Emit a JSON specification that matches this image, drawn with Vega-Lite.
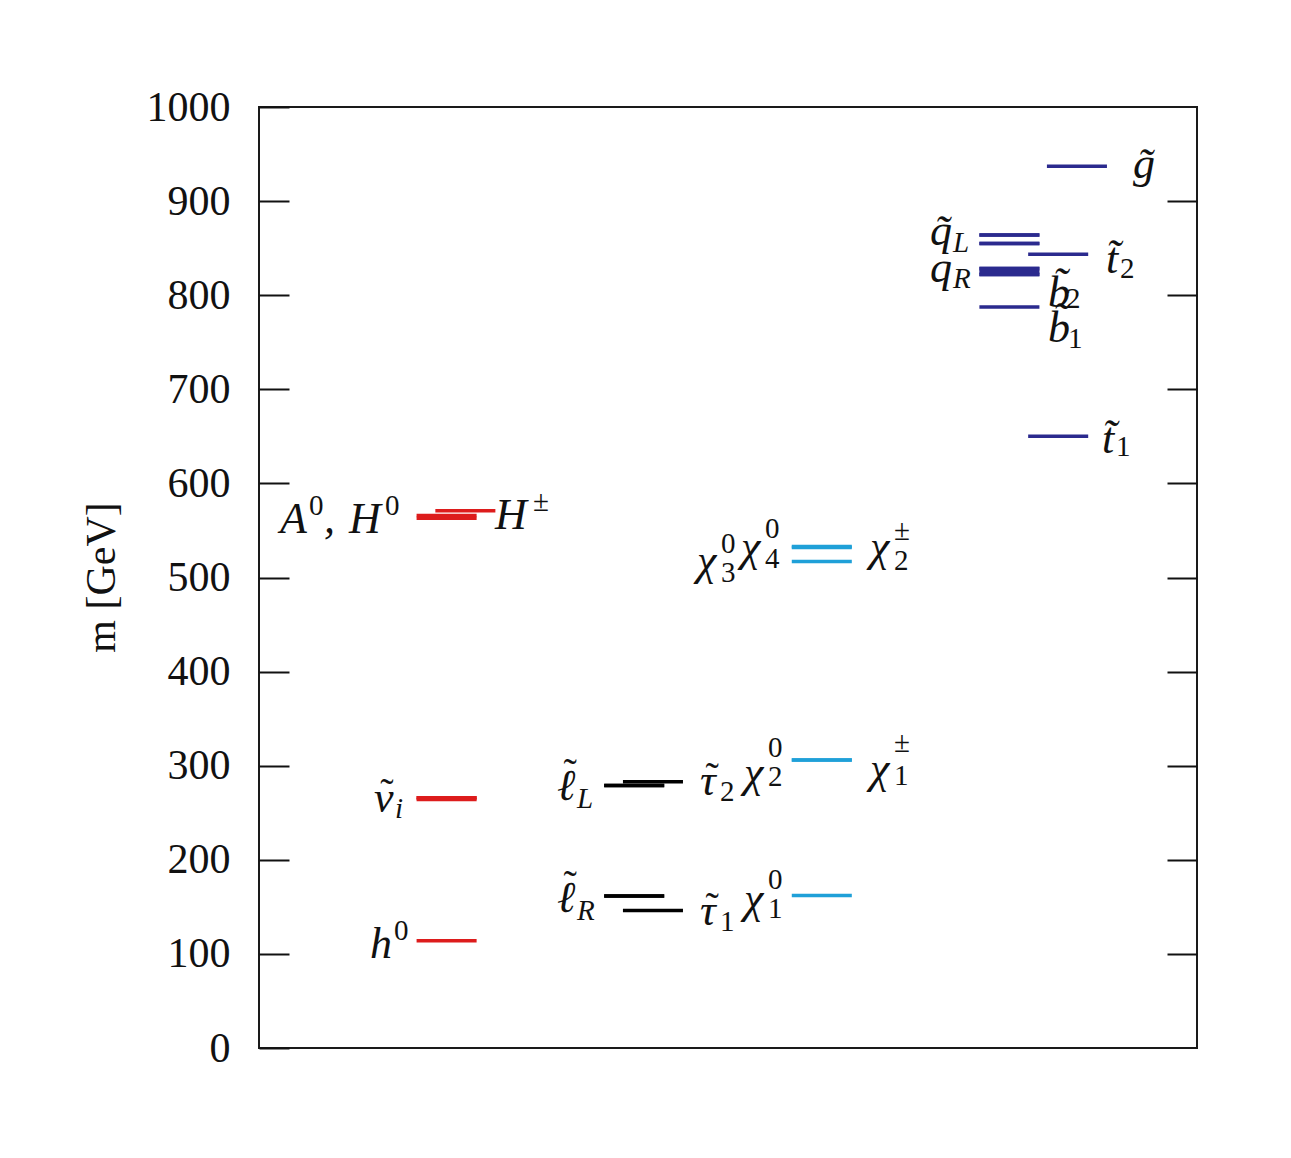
{
  "$schema": "https://vega.github.io/schema/vega-lite/v6.json",
  "width": 938,
  "height": 941,
  "autosize": {"type": "none"},
  "padding": {"left": 259, "top": 107, "right": 94, "bottom": 110},
  "background": "white",
  "config": {
    "view": {"stroke": "#1a1a1a", "strokeWidth": 2},
    "axis": {"grid": false, "domain": false}
  },
  "datasets": {
    "levels": [
      {"particle": "h0", "group": "higgs", "m": 114, "x0": 0.84, "x1": 1.16},
      {"particle": "snu_e", "group": "higgs", "m": 266, "x0": 0.84, "x1": 1.16},
      {"particle": "snu_mu", "group": "higgs", "m": 266, "x0": 0.84, "x1": 1.16},
      {"particle": "snu_tau", "group": "higgs", "m": 264, "x0": 0.84, "x1": 1.16},
      {"particle": "A0", "group": "higgs", "m": 563, "x0": 0.84, "x1": 1.16},
      {"particle": "H0", "group": "higgs", "m": 566, "x0": 0.84, "x1": 1.16},
      {"particle": "Hpm", "group": "higgs", "m": 571, "x0": 0.94, "x1": 1.26},
      {"particle": "eL", "group": "slepton", "m": 279, "x0": 1.84, "x1": 2.16},
      {"particle": "muL", "group": "slepton", "m": 279, "x0": 1.84, "x1": 2.16},
      {"particle": "tau2", "group": "slepton", "m": 283, "x0": 1.94, "x1": 2.26},
      {"particle": "eR", "group": "slepton", "m": 161.5, "x0": 1.84, "x1": 2.16},
      {"particle": "muR", "group": "slepton", "m": 161.5, "x0": 1.84, "x1": 2.16},
      {"particle": "tau1", "group": "slepton", "m": 146, "x0": 1.94, "x1": 2.26},
      {"particle": "N1", "group": "gaugino", "m": 162, "x0": 2.84, "x1": 3.16},
      {"particle": "N2", "group": "gaugino", "m": 306, "x0": 2.84, "x1": 3.16},
      {"particle": "C1", "group": "gaugino", "m": 306, "x0": 2.84, "x1": 3.16},
      {"particle": "N3", "group": "gaugino", "m": 517, "x0": 2.84, "x1": 3.16},
      {"particle": "N4", "group": "gaugino", "m": 532, "x0": 2.84, "x1": 3.16},
      {"particle": "C2", "group": "gaugino", "m": 533, "x0": 2.84, "x1": 3.16},
      {"particle": "uL", "group": "squark", "m": 855, "x0": 3.84, "x1": 4.16},
      {"particle": "cL", "group": "squark", "m": 855, "x0": 3.84, "x1": 4.16},
      {"particle": "dL", "group": "squark", "m": 864, "x0": 3.84, "x1": 4.16},
      {"particle": "sL", "group": "squark", "m": 864, "x0": 3.84, "x1": 4.16},
      {"particle": "uR", "group": "squark", "m": 828.5, "x0": 3.84, "x1": 4.16},
      {"particle": "cR", "group": "squark", "m": 828.5, "x0": 3.84, "x1": 4.16},
      {"particle": "dR", "group": "squark", "m": 822, "x0": 3.84, "x1": 4.16},
      {"particle": "sR", "group": "squark", "m": 822, "x0": 3.84, "x1": 4.16},
      {"particle": "b2", "group": "squark", "m": 825, "x0": 3.84, "x1": 4.16},
      {"particle": "b1", "group": "squark", "m": 787.5, "x0": 3.84, "x1": 4.16},
      {"particle": "t2", "group": "squark", "m": 843.5, "x0": 4.10, "x1": 4.42},
      {"particle": "t1", "group": "squark", "m": 650, "x0": 4.10, "x1": 4.42},
      {"particle": "gluino", "group": "squark", "m": 937, "x0": 4.20, "x1": 4.52}
    ],
    "labels": [
      {"t": "h", "k": "b", "x": 0.592, "m": 95.6},
      {"t": "0", "k": "s", "x": 0.720, "m": 114.8},
      {"t": "ν", "k": "b", "x": 0.613, "m": 250.8},
      {"t": "˜", "k": "tl", "x": 0.682, "m": 257.2},
      {"t": "i", "k": "si", "x": 0.725, "m": 244.4},
      {"t": "A", "k": "b", "x": 0.112, "m": 547.3},
      {"t": "0", "k": "s", "x": 0.267, "m": 566.4},
      {"t": ",", "k": "b", "x": 0.347, "m": 547.3},
      {"t": "H", "k": "b", "x": 0.480, "m": 547.3},
      {"t": "0", "k": "s", "x": 0.672, "m": 566.4},
      {"t": "H", "k": "b", "x": 1.258, "m": 551.5},
      {"t": "±", "k": "s", "x": 1.461, "m": 570.7},
      {"t": "ℓ", "k": "b", "x": 1.589, "m": 263.5},
      {"t": "˜", "k": "tl", "x": 1.658, "m": 278.4},
      {"t": "L", "k": "si", "x": 1.695, "m": 255.0},
      {"t": "ℓ", "k": "b", "x": 1.589, "m": 144.5},
      {"t": "˜", "k": "tl", "x": 1.658, "m": 159.4},
      {"t": "R", "k": "si", "x": 1.695, "m": 136.0},
      {"t": "τ", "k": "b", "x": 2.351, "m": 268.9},
      {"t": "˜", "k": "tl", "x": 2.415, "m": 274.2},
      {"t": "2", "k": "s", "x": 2.457, "m": 262.5},
      {"t": "χ", "k": "b", "x": 2.585, "m": 277.4},
      {"t": "0", "k": "s", "x": 2.713, "m": 309.2},
      {"t": "2", "k": "s", "x": 2.713, "m": 278.4},
      {"t": "χ", "k": "b", "x": 3.257, "m": 281.6},
      {"t": "±", "k": "s", "x": 3.385, "m": 314.6},
      {"t": "1", "k": "s", "x": 3.385, "m": 279.5},
      {"t": "τ", "k": "b", "x": 2.351, "m": 130.7},
      {"t": "˜", "k": "tl", "x": 2.415, "m": 136.0},
      {"t": "1", "k": "s", "x": 2.457, "m": 124.3},
      {"t": "χ", "k": "b", "x": 2.585, "m": 143.5},
      {"t": "0", "k": "s", "x": 2.713, "m": 169.0},
      {"t": "1", "k": "s", "x": 2.713, "m": 138.2},
      {"t": "χ", "k": "b", "x": 2.335, "m": 502.7},
      {"t": "0", "k": "s", "x": 2.463, "m": 526.0},
      {"t": "3", "k": "s", "x": 2.463, "m": 495.2},
      {"t": "χ", "k": "b", "x": 2.569, "m": 517.5},
      {"t": "0", "k": "s", "x": 2.697, "m": 542.0},
      {"t": "4", "k": "s", "x": 2.697, "m": 510.1},
      {"t": "χ", "k": "b", "x": 3.257, "m": 517.5},
      {"t": "±", "k": "s", "x": 3.385, "m": 539.9},
      {"t": "2", "k": "s", "x": 3.385, "m": 508.0},
      {"t": "q̃", "k": "b", "x": 3.577, "m": 853.3},
      {"t": "L", "k": "si", "x": 3.699, "m": 845.9},
      {"t": "q", "k": "b", "x": 3.577, "m": 814.0},
      {"t": "R", "k": "si", "x": 3.699, "m": 807.7},
      {"t": "b̃", "k": "b", "x": 4.206, "m": 787.5},
      {"t": "2", "k": "s", "x": 4.302, "m": 786.4},
      {"t": "b̃", "k": "b", "x": 4.206, "m": 750.3},
      {"t": "1", "k": "s", "x": 4.312, "m": 743.9},
      {"t": "t̃", "k": "b", "x": 4.515, "m": 823.6},
      {"t": "2", "k": "s", "x": 4.590, "m": 818.3},
      {"t": "t̃", "k": "b", "x": 4.494, "m": 632.3},
      {"t": "1", "k": "s", "x": 4.568, "m": 629.1},
      {"t": "g̃", "k": "b", "x": 4.659, "m": 924.5}
    ]
  },
  "resolve": {"scale": {"y": "independent"}},
  "layer": [
    {
      "data": {"name": "levels"},
      "mark": {"type": "rule", "strokeWidth": 3.5},
      "encoding": {
        "x": {"field": "x0", "type": "quantitative", "scale": {"domain": [0, 5]}, "axis": null},
        "x2": {"field": "x1"},
        "y": {
          "field": "m", "type": "quantitative",
          "scale": {"domain": [0, 1000]},
          "axis": {
            "orient": "left",
            "values": [0, 100, 200, 300, 400, 500, 600, 700, 800, 900, 1000],
            "format": "d",
            "tickSize": -30, "tickWidth": 2, "tickColor": "#111",
            "labelPadding": 59, "labelFlush": false, "labelBaseline": "middle",
            "labelFont": "Liberation Serif", "labelFontSize": 42, "labelColor": "#111",
            "title": "m [GeV]", "titleFont": "Liberation Serif", "titleFontSize": 42,
            "titleFontWeight": "normal", "titleColor": "#111",
            "titleAngle": -90, "titleX": -158, "titleY": 470,
            "titleAlign": "center", "titleBaseline": "middle"
          }
        },
        "color": {
          "field": "group", "type": "nominal",
          "scale": {"domain": ["higgs", "slepton", "gaugino", "squark"], "range": ["#dd1c1c", "#000000", "#1fa0d8", "#2b2a8e"]},
          "legend": null
        }
      }
    },
    {
      "data": {"name": "labels"},
      "transform": [{"filter": "datum.k === 'b'"}],
      "mark": {"type": "text", "font": "Liberation Serif", "fontStyle": "italic", "fontSize": 44, "align": "left", "baseline": "alphabetic", "color": "#111"},
      "encoding": {
        "x": {"field": "x", "type": "quantitative", "scale": {"domain": [0, 5]}, "axis": null},
        "y": {
          "field": "m", "type": "quantitative",
          "scale": {"domain": [0, 1000]},
          "axis": {
            "orient": "right",
            "values": [100, 200, 300, 400, 500, 600, 700, 800, 900],
            "tickSize": -30, "tickWidth": 2, "tickColor": "#111",
            "labels": false, "title": null
          }
        },
        "text": {"field": "t"}
      }
    },
    {
      "data": {"name": "labels"},
      "transform": [{"filter": "datum.k === 'tl'"}],
      "mark": {"type": "text", "font": "Liberation Serif", "fontSize": 40, "align": "center", "baseline": "alphabetic", "color": "#111"},
      "encoding": {
        "x": {"field": "x", "type": "quantitative", "scale": {"domain": [0, 5]}, "axis": null},
        "y": {"field": "m", "type": "quantitative", "scale": {"domain": [0, 1000]}, "axis": null},
        "text": {"field": "t"}
      }
    },
    {
      "data": {"name": "labels"},
      "transform": [{"filter": "datum.k === 's'"}],
      "mark": {"type": "text", "font": "Liberation Serif", "fontSize": 29, "align": "left", "baseline": "alphabetic", "color": "#111"},
      "encoding": {
        "x": {"field": "x", "type": "quantitative", "scale": {"domain": [0, 5]}, "axis": null},
        "y": {"field": "m", "type": "quantitative", "scale": {"domain": [0, 1000]}, "axis": null},
        "text": {"field": "t"}
      }
    },
    {
      "data": {"name": "labels"},
      "transform": [{"filter": "datum.k === 'si'"}],
      "mark": {"type": "text", "font": "Liberation Serif", "fontStyle": "italic", "fontSize": 29, "align": "left", "baseline": "alphabetic", "color": "#111"},
      "encoding": {
        "x": {"field": "x", "type": "quantitative", "scale": {"domain": [0, 5]}, "axis": null},
        "y": {"field": "m", "type": "quantitative", "scale": {"domain": [0, 1000]}, "axis": null},
        "text": {"field": "t"}
      }
    }
  ]
}
